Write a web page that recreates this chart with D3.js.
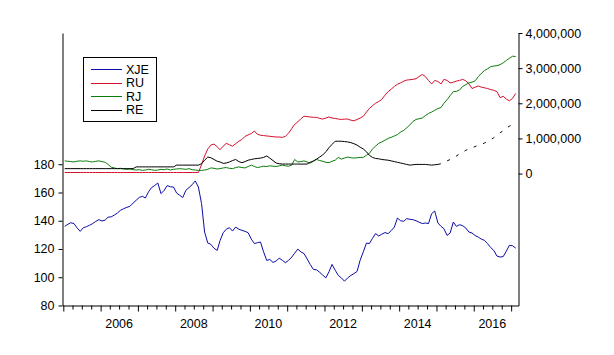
<!DOCTYPE html>
<html><head><meta charset="utf-8">
<script src="https://cdn.jsdelivr.net/npm/d3@7"></script>
<style>body{margin:0;background:#fff}svg text{font-family:"Liberation Sans",Arial,sans-serif}</style>
</head><body><svg id="c" width="614" height="355"></svg>
<script>
// Monthly observations, 2005M01 .. 2017M02
const firstYear = 2005;
const nObs = 146;

// XJE (left axis)
const XJE = [136,137.5,138.6,138,135,132.5,135,135.8,136.8,138,139.5,140.8,
139.8,140.5,142.5,142.8,144,145.5,147.4,148.5,149.5,150.2,152.5,154.5,
156.5,157.3,156.1,160.5,163.5,165,166.7,159.2,161.5,164.9,164,163.9,
159.6,158,156.4,161.6,163.5,165.5,168.2,163.9,152.1,132,124.2,123.3,
120.5,119,126,131.5,134,135.1,132.7,135.5,134,133.2,132.5,131.5,
127,123.8,124.5,124.9,118,111.9,112.6,110.5,111.5,113.5,112,110.3,
112,114.3,117,119.9,118,116.7,113,109,105.5,105.3,103.5,101.5,
99.6,104,109.1,105,101.3,99.5,97.2,99.5,101.3,102.5,104.1,112,
118,124.2,123.8,127.5,130.9,129.2,130.5,131.6,130.9,133,135.5,141.9,
140,139.6,141.5,141,140.8,140,139,138,138.4,138,145,146.9,
138.5,136,134.4,129.6,131.3,139.1,136,137.2,136.5,134.8,132,131.3,
129.5,128.4,127,126.1,123.8,121,119,115,114.3,114.6,118.5,122.6,
122.3,120.6];

// RU, RJ, RE (right axis), in millions
const RU = [0.03,0.03,0.03,0.03,0.03,0.03,0.03,0.03,0.03,0.03,0.03,0.03,
0.03,0.03,0.03,0.03,0.03,0.03,0.03,0.03,0.03,0.03,0.03,0.03,
0.03,0.03,0.03,0.03,0.03,0.03,0.03,0.03,0.03,0.03,0.03,0.03,
0.03,0.03,0.03,0.03,0.03,0.03,0.03,0.03,0.25,0.5,0.7,0.81,
0.84,0.76,0.68,0.78,0.86,0.82,0.78,0.85,0.92,0.97,1.06,1.1,
1.14,1.21,1.12,1.09,1.08,1.07,1.06,1.05,1.04,1.04,1.03,1.06,
1.15,1.28,1.4,1.47,1.56,1.63,1.62,1.61,1.6,1.6,1.57,1.55,
1.58,1.61,1.58,1.57,1.55,1.54,1.55,1.55,1.52,1.5,1.54,1.58,
1.63,1.75,1.85,1.93,2.0,2.05,2.11,2.23,2.33,2.4,2.48,2.54,
2.58,2.63,2.66,2.67,2.68,2.7,2.76,2.82,2.76,2.65,2.55,2.65,
2.62,2.55,2.68,2.65,2.58,2.6,2.63,2.65,2.68,2.64,2.55,2.42,
2.46,2.49,2.46,2.44,2.42,2.39,2.37,2.33,2.16,2.2,2.12,2.07,
2.14,2.28];

const RJ = [0.36,0.35,0.34,0.33,0.35,0.36,0.35,0.36,0.34,0.33,0.35,0.36,
0.34,0.32,0.26,0.18,0.16,0.14,0.15,0.13,0.12,0.13,0.11,0.10,
0.11,0.09,0.10,0.12,0.11,0.09,0.10,0.12,0.11,0.13,0.10,0.12,
0.13,0.14,0.13,0.12,0.14,0.11,0.10,0.09,0.09,0.10,0.12,0.16,
0.15,0.13,0.14,0.16,0.17,0.15,0.14,0.17,0.19,0.17,0.16,0.20,
0.24,0.20,0.17,0.19,0.21,0.20,0.22,0.21,0.20,0.22,0.24,0.22,
0.21,0.24,0.40,0.33,0.34,0.36,0.33,0.30,0.35,0.40,0.37,0.35,
0.32,0.31,0.35,0.38,0.46,0.41,0.44,0.47,0.45,0.44,0.45,0.46,
0.46,0.52,0.57,0.70,0.78,0.86,0.90,0.95,1.00,1.03,1.07,1.11,
1.18,1.23,1.30,1.38,1.48,1.54,1.56,1.58,1.65,1.71,1.75,1.80,
1.85,1.88,2.00,2.10,2.22,2.33,2.34,2.38,2.48,2.53,2.58,2.60,
2.64,2.76,2.85,2.93,2.98,3.04,3.06,3.07,3.10,3.15,3.22,3.28,
3.34,3.33];

const RE = [0.14,0.14,0.14,0.14,0.14,0.14,0.14,0.14,0.14,0.14,0.14,0.14,
0.14,0.14,0.14,0.14,0.14,0.14,0.14,0.14,0.14,0.14,0.14,0.19,
0.19,0.19,0.19,0.19,0.19,0.19,0.19,0.19,0.19,0.19,0.19,0.19,
0.24,0.24,0.24,0.24,0.24,0.24,0.24,0.24,0.28,0.38,0.47,0.45,
0.40,0.35,0.33,0.29,0.30,0.33,0.37,0.40,0.34,0.31,0.34,0.38,
0.40,0.42,0.43,0.44,0.46,0.50,0.44,0.37,0.30,0.28,0.27,0.27,
0.27,0.27,0.27,0.27,0.27,0.27,0.27,0.32,0.36,0.41,0.47,0.53,
0.62,0.74,0.83,0.92,0.92,0.92,0.91,0.90,0.88,0.85,0.81,0.75,
0.70,0.62,0.52,0.46,0.43,0.42,0.40,0.39,0.38,0.36,0.34,0.32,
0.30,0.28,0.26,0.24,0.25,0.26,0.26,0.26,0.26,0.25,0.24,0.25,
0.26,0.28,0.31,0.36,0.40,0.44,0.50,0.56,0.61,0.66,0.70,0.73,
0.77,0.80,0.83,0.87,0.91,0.96,1.02,1.08,1.16,1.22,1.29,1.35,
1.38,null];
const RE_SOLID_END = 120; // dashed from this observation on

const seriesNames = ["XJE", "RU", "RJ", "RE"];
const seriesColors = ["#0c0ca8", "#d4102c", "#0a7d0a", "#000000"];
const leftTicks = [80, 100, 120, 140, 160, 180];
const rightTicks = [0, 1000000, 2000000, 3000000, 4000000];
const yearLabels = [2006, 2008, 2010, 2012, 2014, 2016];
const UNIT = 1e6;

const svg = d3.select("#c");
const dates = d3.range(nObs).map(i => new Date(Date.UTC(firstYear, i, 15)));

const x = d3.scaleUtc()
  .domain([new Date(Date.UTC(2004, 11, 24)), new Date(Date.UTC(2017, 2, 14))])
  .range([62.5, 518.5]);
const yL = d3.scaleLinear().domain([80, 272.9]).range([305.5, 33]);
const yR = d3.scaleLinear().domain([-3.755e6, 4e6]).range([305.5, 33]);

const fontSize = "12.5px";

// Left axis
const gL = svg.append("g").attr("transform", "translate(62.5,0)")
  .call(d3.axisLeft(yL).tickValues(leftTicks).tickSize(4).tickPadding(4).tickSizeOuter(0));
// Right axis
const gR = svg.append("g").attr("transform", "translate(518.5,0)")
  .call(d3.axisRight(yR).tickValues(rightTicks).tickFormat(d3.format(",")).tickSize(4).tickPadding(3).tickSizeOuter(0));
// Bottom axis with quarterly minor ticks
const qTicks = d3.utcMonth.every(3).range(new Date(Date.UTC(2005, 0, 1)), new Date(Date.UTC(2017, 1, 1)));
const gB = svg.append("g").attr("transform", "translate(0,305.5)")
  .call(d3.axisBottom(x).tickValues(qTicks).tickSize(4).tickFormat("").tickSizeOuter(0));
gB.selectAll(".tick line").filter(d => d.getUTCMonth() === 0).attr("y2", 6);

[gL, gR, gB].forEach(g => {
  g.selectAll("text").attr("font-size", fontSize).attr("fill", "#000")
    .attr("font-family", "'Liberation Sans', Arial, sans-serif");
  g.selectAll("line,path").attr("stroke", "#000");
});

// Year labels centred in each year
svg.append("g").selectAll("text").data(yearLabels).join("text")
  .attr("x", d => x(new Date(Date.UTC(d, 6, 1))))
  .attr("y", 327.5)
  .attr("text-anchor", "middle")
  .attr("font-size", fontSize)
  .text(d => d);

// Lines
const lineL = d3.line().defined(d => d != null).x((d, i) => x(dates[i])).y(d => yL(d));
const lineR = d3.line().defined(d => d != null).x(d => x(d.date)).y(d => yR(d.v * UNIT));
const toPts = arr => arr.map((v, i) => ({date: dates[i], v: v, i: i})).filter(p => p.v != null);

svg.append("path").attr("d", lineL(XJE)).attr("fill", "none")
  .attr("stroke", seriesColors[0]).attr("stroke-width", 1);
svg.append("path").attr("d", lineR(toPts(RU))).attr("fill", "none")
  .attr("stroke", seriesColors[1]).attr("stroke-width", 1);
svg.append("path").attr("d", lineR(toPts(RJ))).attr("fill", "none")
  .attr("stroke", seriesColors[2]).attr("stroke-width", 1);
const rePts = toPts(RE);
svg.append("path").attr("d", lineR(rePts.filter(p => p.i <= RE_SOLID_END))).attr("fill", "none")
  .attr("stroke", seriesColors[3]).attr("stroke-width", 1);
svg.append("path").attr("d", lineR(rePts.filter(p => p.i >= RE_SOLID_END))).attr("fill", "none")
  .attr("stroke", seriesColors[3]).attr("stroke-width", 1).attr("stroke-dasharray", "3,7");

// Legend
const lg = svg.append("g");
lg.append("rect").attr("x", 83.5).attr("y", 57.5).attr("width", 73).attr("height", 64)
  .attr("fill", "#fff").attr("stroke", "#000");
seriesNames.forEach((n, i) => {
  const yy = 69 + i * 13.6;
  lg.append("line").attr("x1", 91).attr("x2", 122).attr("y1", Math.round(yy) + 0.5).attr("y2", Math.round(yy) + 0.5)
    .attr("stroke", seriesColors[i]);
  lg.append("text").attr("x", 126).attr("y", yy + 4.5).attr("font-size", "12.5px").text(n);
});
</script>
</body></html>
